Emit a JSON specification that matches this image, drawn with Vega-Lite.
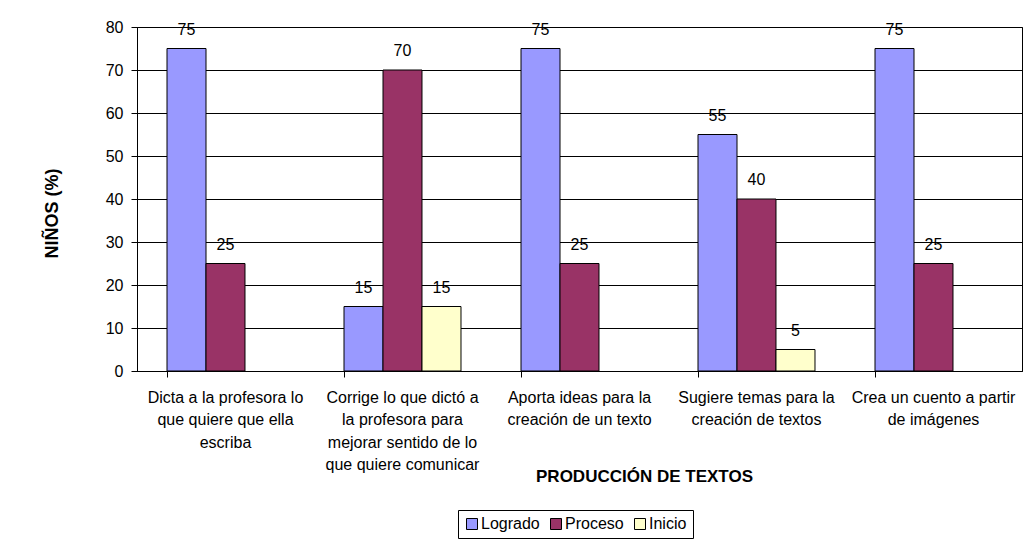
{
  "$schema": "https://vega.github.io/schema/vega-lite/v6.json",
  "autosize": {"type": "none"},
  "padding": {"left": 137, "top": 27, "right": 10, "bottom": 173},
  "width": 885,
  "height": 344,
  "background": "white",
  "data": {
    "values": [
      {"actividad": "Dicta a la profesora lo|que quiere que ella|escriba", "nivel": "Logrado", "porcentaje": 75},
      {"actividad": "Dicta a la profesora lo|que quiere que ella|escriba", "nivel": "Proceso", "porcentaje": 25},
      {"actividad": "Corrige lo que dictó a|la profesora para|mejorar sentido de lo|que quiere comunicar", "nivel": "Logrado", "porcentaje": 15},
      {"actividad": "Corrige lo que dictó a|la profesora para|mejorar sentido de lo|que quiere comunicar", "nivel": "Proceso", "porcentaje": 70},
      {"actividad": "Corrige lo que dictó a|la profesora para|mejorar sentido de lo|que quiere comunicar", "nivel": "Inicio", "porcentaje": 15},
      {"actividad": "Aporta ideas para la|creación de un texto", "nivel": "Logrado", "porcentaje": 75},
      {"actividad": "Aporta ideas para la|creación de un texto", "nivel": "Proceso", "porcentaje": 25},
      {"actividad": "Sugiere temas para la|creación de textos", "nivel": "Logrado", "porcentaje": 55},
      {"actividad": "Sugiere temas para la|creación de textos", "nivel": "Proceso", "porcentaje": 40},
      {"actividad": "Sugiere temas para la|creación de textos", "nivel": "Inicio", "porcentaje": 5},
      {"actividad": "Crea un cuento a partir|de imágenes", "nivel": "Logrado", "porcentaje": 75},
      {"actividad": "Crea un cuento a partir|de imágenes", "nivel": "Proceso", "porcentaje": 25}
    ]
  },
  "encoding": {
    "x": {
      "field": "actividad",
      "type": "nominal",
      "sort": null,
      "scale": {"paddingInner": 0.339, "paddingOuter": 0.1695},
      "axis": {
        "title": "PRODUCCIÓN DE TEXTOS",
        "titleFont": "Liberation Sans",
        "titleFontSize": 17,
        "titleFontWeight": "bold",
        "titleColor": "black",
        "titleBaseline": "alphabetic",
        "titleAlign": "center",
        "titleX": 507,
        "titleY": 110,
        "labelExpr": "split(datum.label, '|')",
        "labelAngle": 0,
        "labelLimit": 0,
        "labelFont": "Liberation Sans",
        "labelFontSize": 16,
        "labelLineHeight": 22.5,
        "labelColor": "black",
        "labelPadding": 12,
        "tickSize": 6,
        "tickColor": "black",
        "bandPosition": 0,
        "domainColor": "black",
        "grid": false
      }
    },
    "xOffset": {
      "field": "nivel",
      "type": "nominal",
      "scale": {"domain": ["Logrado", "Proceso", "Inicio"], "paddingInner": 0, "paddingOuter": 0}
    },
    "y": {
      "field": "porcentaje",
      "type": "quantitative",
      "scale": {"domain": [0, 80], "nice": false},
      "axis": {
        "title": "NIÑOS (%)",
        "titleFont": "Liberation Sans",
        "titleFontSize": 18,
        "titleFontWeight": "bold",
        "titleColor": "black",
        "titleAngle": 270,
        "titleBaseline": "alphabetic",
        "titleAlign": "center",
        "titleLimit": 0,
        "titleX": -80,
        "titleY": 186,
        "values": [0, 10, 20, 30, 40, 50, 60, 70, 80],
        "labelFont": "Liberation Sans",
        "labelFontSize": 16,
        "labelColor": "black",
        "labelPadding": 8,
        "tickSize": 6,
        "tickColor": "black",
        "domainColor": "black",
        "grid": true,
        "gridColor": "black",
        "gridOpacity": 1
      }
    }
  },
  "layer": [
    {
      "mark": {"type": "bar", "stroke": "black", "strokeWidth": 1},
      "encoding": {
        "color": {
          "field": "nivel",
          "type": "nominal",
          "scale": {"domain": ["Logrado", "Proceso", "Inicio"], "range": ["#9999FF", "#993366", "#FFFFCC"]},
          "legend": {
            "title": null,
            "orient": "none",
            "legendX": 321,
            "legendY": 483,
            "direction": "horizontal",
            "strokeColor": "black",
            "fillColor": "white",
            "padding": 6,
            "symbolType": "square",
            "symbolSize": 121,
            "symbolStrokeColor": "black",
            "symbolStrokeWidth": 1,
            "symbolOpacity": 1,
            "labelFont": "Liberation Sans",
            "labelFontSize": 16,
            "labelColor": "black",
            "labelOffset": 1,
            "columnPadding": 8
          }
        }
      }
    },
    {
      "mark": {"type": "text", "dy": -14, "baseline": "alphabetic", "align": "center", "font": "Liberation Sans", "fontSize": 16, "color": "black"},
      "encoding": {
        "text": {"field": "porcentaje", "type": "quantitative"}
      }
    }
  ],
  "config": {
    "view": {"stroke": "black", "strokeWidth": 1},
    "axis": {"domainWidth": 1, "tickWidth": 1}
  }
}
